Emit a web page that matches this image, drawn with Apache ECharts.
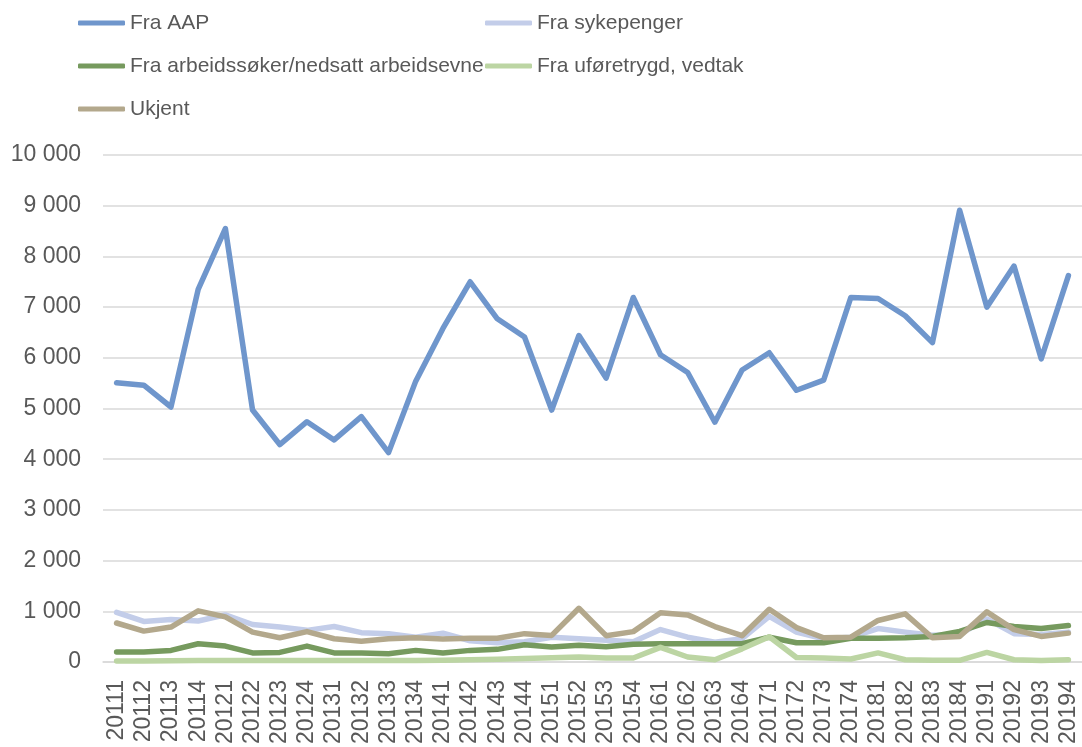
<!DOCTYPE html>
<html lang="no">
<head>
    <meta charset="utf-8">
    <title>Overgang</title>
    <style>
        html, body { margin: 0; padding: 0; background: #fff; }
    </style>
</head>
<body>
    <div id="main" style="width:1082px;height:747px;"></div>
    <script src="https://cdn.jsdelivr.net/npm/echarts@6/dist/echarts.min.js"></script>
    <script type="text/javascript">
        var myChart = echarts.init(document.getElementById('main'));

        // kvartaler
        var kvartaler = ['20111','20112','20113','20114','20121','20122','20123','20124',
            '20131','20132','20133','20134','20141','20142','20143','20144',
            '20151','20152','20153','20154','20161','20162','20163','20164',
            '20171','20172','20173','20174','20181','20182','20183','20184',
            '20191','20192','20193','20194'];

        var fraAAP = [5510,5460,5030,7350,8550,4970,4290,4740,4380,4840,4130,5540,
            6580,7500,6770,6410,4970,6440,5600,7190,6060,5710,4730,5760,
            6100,5360,5560,7190,7170,6830,6300,8910,7000,7810,5980,7620];
        var fraSykepenger = [980,800,840,810,930,740,690,625,700,580,560,490,
            570,420,380,400,490,460,430,400,640,490,390,460,
            900,590,460,490,660,590,530,545,850,560,545,590];
        var fraArbeidssoker = [200,200,230,360,315,180,190,315,180,180,165,230,
            180,230,250,340,295,330,300,350,360,360,360,360,
            490,380,380,470,470,480,505,605,780,700,660,720];
        var fraUforetrygd = [20,20,25,30,30,30,30,30,30,30,30,30,
            35,45,55,70,85,100,80,80,290,100,45,260,
            500,90,80,60,180,45,35,35,190,45,30,45];
        var ukjent = [770,610,690,1010,890,590,480,600,460,410,460,480,
            455,470,470,560,525,1060,520,600,970,930,700,520,
            1040,680,480,490,820,950,480,505,990,640,505,570];

        var yTicks = [0, 2000, 4000, 6000, 8000, 10000];

        var tekst = '#595959';
        var farger = ['#6f96cc', '#c3cde9', '#769a5e', '#bcd5a3', '#b3a88c'];

        function linje(navn, data, farge) {
            return {
                name: navn,
                type: 'line',
                data: data,
                symbol: 'none',
                color: farge,
                lineStyle: { width: 5.5, color: farge, cap: 'round', join: 'round' },
                emphasis: { disabled: true }
            };
        }

        var legendBase = {
            orient: 'vertical',
            icon: 'roundRect',
            itemWidth: 47,
            itemHeight: 5,
            itemGap: 19,
            textStyle: { color: tekst, fontSize: 21, fontFamily: 'Liberation Sans, Arial', lineHeight: 24 },
            padding: 0
        };

        var option = {
            animation: false,
            legend: [
                Object.assign({}, legendBase, { left: 78, top: 11, data: ['Fra AAP', 'Fra arbeidssøker/nedsatt arbeidsevne', 'Ukjent'] }),
                Object.assign({}, legendBase, { left: 485, top: 11, data: ['Fra sykepenger', 'Fra uføretrygd, vedtak'] })
            ],
            grid: {
                left: 103,
                right: 0,
                top: 155,
                bottom: 82,
                containLabel: false
            },
            xAxis: {
                type: 'category',
                data: kvartaler,
                boundaryGap: true,
                axisLine: { lineStyle: { color: '#d9d9d9', width: 1.5 } },
                axisTick: { show: false },
                axisLabel: {
                    rotate: 90,
                    interval: 0,
                    margin: 18,
                    color: tekst,
                    fontSize: 23,
                    fontFamily: 'Liberation Sans, Arial'
                }
            },
            yAxis: {
                type: 'value',
                min: yTicks[0],
                max: yTicks[yTicks.length - 1],
                interval: 1000,
                axisLine: { show: false },
                axisTick: { show: false },
                splitLine: { lineStyle: { color: '#d9d9d9', width: 1.5 } },
                axisLabel: {
                    margin: 22,
                    color: tekst,
                    fontSize: 23,
                    fontFamily: 'Liberation Sans, Arial',
                    formatter: function (v) {
                        return String(v).replace(/\B(?=(\d{3})+(?!\d))/g, ' ');
                    }
                }
            },
            series: [
                linje('Fra AAP', fraAAP, farger[0]),
                linje('Fra sykepenger', fraSykepenger, farger[1]),
                linje('Fra arbeidssøker/nedsatt arbeidsevne', fraArbeidssoker, farger[2]),
                linje('Fra uføretrygd, vedtak', fraUforetrygd, farger[3]),
                linje('Ukjent', ukjent, farger[4])
            ]
        };
        myChart.setOption(option);
    </script>
</body>
</html>
